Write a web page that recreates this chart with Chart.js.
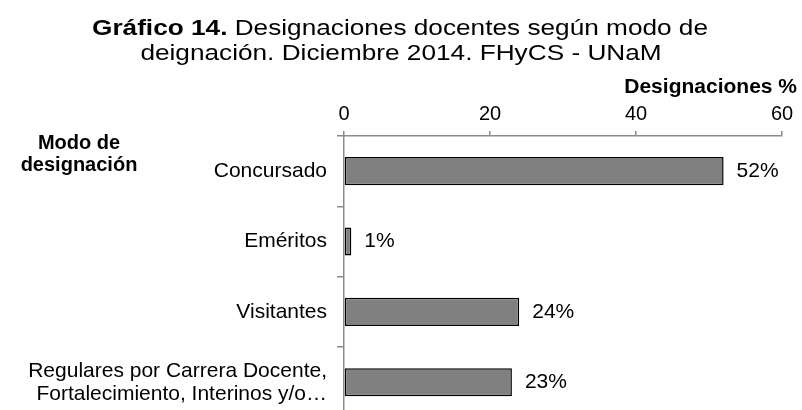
<!DOCTYPE html>
<html>
<head>
<meta charset="utf-8">
<script src="https://cdn.jsdelivr.net/npm/chart.js@4.4.0/dist/chart.umd.min.js"></script>
<style>
  html, body { margin: 0; padding: 0; background: #fff; height: 410px; overflow: hidden; }
  /* the plot area runs past the bottom edge in the original, so the canvas is a bit taller than the window */
  #wrap { width: 802px; height: 439px; }
</style>
</head>
<body>
<div id="wrap"><canvas id="mycanvas"></canvas></div>
<script>
var modos = [
    'Concursado',
    'Eméritos',
    'Visitantes',
    ['Regulares por Carrera Docente,', 'Fortalecimiento, Interinos y/o…']
];
var porcentajes = [52, 1, 24, 23];
var ejeTicks = [0, 20, 40, 60];

var tituloNegrita = 'Gráfico 14.';
var tituloResto = ' Designaciones docentes según modo de';
var tituloLinea2 = 'deignación. Diciembre 2014. FHyCS - UNaM';
var tituloEjeX = 'Designaciones %';
var tituloEjeY = ['Modo de', 'designación'];

var FONT = '"Liberation Sans", Arial, sans-serif';
var GRIS = '#8c8c8c';

var textos = {
    id: 'textos',
    afterDraw: function(chart) {
        var ctx = chart.ctx;
        ctx.save();
        ctx.fillStyle = '#000';

        // titulo: primera parte en negrita, algo estirado como en el original
        ctx.textBaseline = 'alphabetic';
        ctx.font = 'bold 22px ' + FONT;
        var w1 = ctx.measureText(tituloNegrita).width;
        ctx.font = '22px ' + FONT;
        var w2 = ctx.measureText(tituloResto).width;
        var sx = 616 / (w1 + w2);
        ctx.save();
        ctx.translate(400, 35);
        ctx.scale(sx, 1);
        var x0 = -(w1 + w2) / 2;
        ctx.textAlign = 'left';
        ctx.font = 'bold 22px ' + FONT;
        ctx.fillText(tituloNegrita, x0, 0);
        ctx.font = '22px ' + FONT;
        ctx.fillText(tituloResto, x0 + w1, 0);
        ctx.restore();
        ctx.save();
        ctx.translate(401, 60);
        ctx.scale(sx, 1);
        ctx.font = '22px ' + FONT;
        ctx.textAlign = 'center';
        ctx.fillText(tituloLinea2, 0, 0);
        ctx.restore();

        // titulos de ejes
        ctx.textBaseline = 'middle';
        ctx.font = 'bold 21px ' + FONT;
        ctx.textAlign = 'right';
        ctx.fillText(tituloEjeX, 797, 87);
        ctx.font = 'bold 20px ' + FONT;
        ctx.textAlign = 'center';
        ctx.fillText(tituloEjeY[0], 79, 143);
        ctx.fillText(tituloEjeY[1], 79, 165);

        // etiquetas de valores
        ctx.font = '21px ' + FONT;
        ctx.textAlign = 'left';
        var meta = chart.getDatasetMeta(0);
        meta.data.forEach(function(bar, i) {
            ctx.fillText(porcentajes[i] + '%', bar.x + 13, bar.y);
        });
        ctx.restore();
    }
};

var ctx = document.getElementById('mycanvas');

var barGraph = new Chart(ctx, {
    type: 'bar',
    data: {
        labels: modos,
        datasets: [{
            label: 'Designaciones %',
            data: porcentajes,
            backgroundColor: '#808080',
            borderColor: '#000',
            borderWidth: 1.5,
            borderSkipped: false,
            barPercentage: 0.8,
            categoryPercentage: 0.5
        }]
    },
    options: {
        indexAxis: 'y',
        responsive: true,
        maintainAspectRatio: false,
        animation: false,
        layout: { padding: { top: 62, right: 20, left: 0, bottom: 0 } },
        plugins: {
            legend: { display: false },
            tooltip: { enabled: false }
        },
        scales: {
            x: {
                position: 'top',
                min: 0,
                max: 60,
                afterBuildTicks: function(scale) {
                    scale.ticks = ejeTicks.map(function(v) { return { value: v }; });
                },
                afterFit: function(scale) { scale.height = 74; },
                ticks: {
                    font: { family: FONT, size: 20 },
                    color: '#000',
                    padding: 5
                },
                grid: {
                    display: true,
                    drawOnChartArea: false,
                    tickLength: 5,
                    color: GRIS,
                    lineWidth: 1.5
                },
                border: { display: true, color: GRIS, width: 1.5 }
            },
            y: {
                afterFit: function(scale) { scale.width = 344; },
                ticks: {
                    font: { family: FONT, size: 21, lineHeight: 1.1 },
                    color: '#000',
                    padding: 10
                },
                grid: {
                    display: true,
                    drawOnChartArea: false,
                    offset: true,
                    tickLength: 7,
                    color: GRIS,
                    lineWidth: 1.5
                },
                border: { display: true, color: GRIS, width: 1.5 }
            }
        }
    },
    plugins: [textos]
});
</script>
</body>
</html>
